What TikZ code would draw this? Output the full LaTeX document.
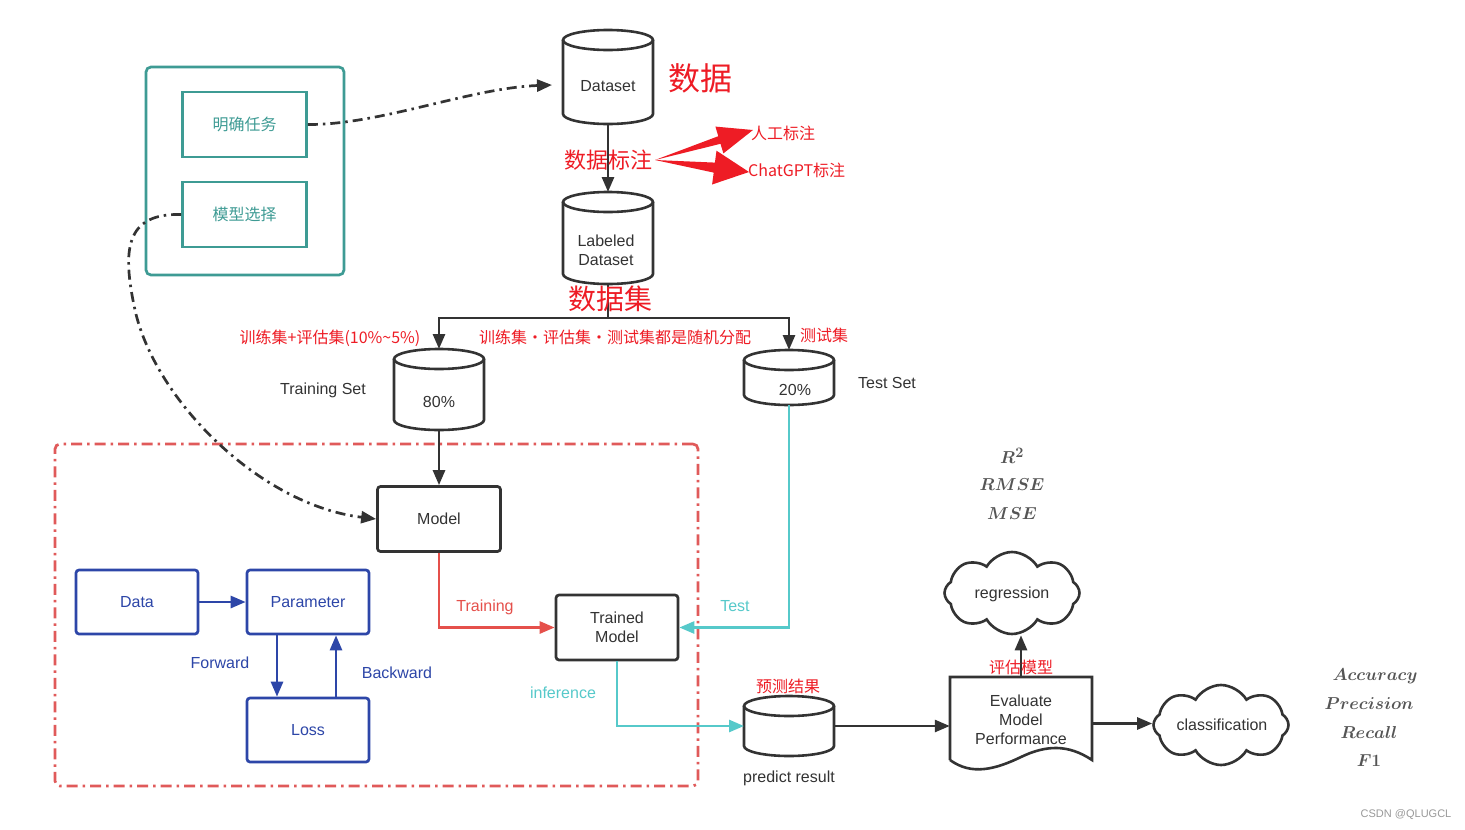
\documentclass[tikz,border=0pt]{standalone}
\usepackage{fontspec}
\setmainfont{Liberation Sans}
\newfontfamily\cjk{Noto Sans CJK SC}
\usetikzlibrary{arrows.meta,shapes.symbols,calc}
\definecolor{dark}{HTML}{333333}
\definecolor{tealC}{HTML}{3E9B94}
\definecolor{blueC}{HTML}{2D46A8}
\definecolor{trainR}{HTML}{E5504B}
\definecolor{cyanC}{HTML}{56C9CA}
\definecolor{annR}{HTML}{EE1C25}
\definecolor{boxR}{HTML}{E05A5A}
\definecolor{mathG}{HTML}{555555}
\definecolor{wmG}{HTML}{999999}
% name, cx, top, bottom (pixel values, y downward)
\newcommand\dbcyl[4]{%
  \node[inner sep=0pt, outer sep=0pt, minimum width=90pt, minimum height={#4-#3}] (#1) at (#2,{-(#3+#4)/2}) {};
  \draw[cylline] ({#2-45},{-(#3+10)}) -- ({#2-45},{-(#4-10)}) arc[start angle=180,end angle=360,x radius=45pt,y radius=10pt] -- ({#2+45},{-(#3+10)});
  \draw[cylline] (#2,{-(#3+10)}) ellipse[x radius=45pt, y radius=10pt];
}
\begin{document}
\begin{tikzpicture}[x=1pt,y=1pt,
  cylline/.style={draw=dark, line width=2.6pt},
  txt/.style={inner sep=0pt, text=dark, font=\fontsize{16}{19}\selectfont, align=center},
  box/.style={draw=dark, line width=2.7pt, rounded corners=3pt, minimum width=123pt, minimum height=65pt, inner sep=0pt, text=dark, font=\fontsize{16}{19}\selectfont, align=center},
  bluebox/.style={draw=blueC, line width=2.7pt, rounded corners=3pt, minimum width=122pt, minimum height=64pt, inner sep=0pt, text=blueC, font=\fontsize{16}{19}\selectfont},
  tealbox/.style={draw=tealC, line width=2.7pt, minimum width=124pt, minimum height=65pt, inner sep=0pt, text=tealC, font=\cjk\fontsize{16}{19}\selectfont},
  tip/.style={-{Triangle[length=15pt,width=12pt]}},
  conn/.style={draw=dark, line width=2.7pt, tip},
  dd/.style={draw=dark, line width=2.7pt, dash pattern=on 10pt off 5pt on 2.5pt off 5pt},
  ann/.style={inner sep=0pt, text=annR, font=\cjk\fontsize{16}{19}\selectfont},
  mth/.style={inner sep=0pt, text=mathG, font=\fontsize{19}{22}\selectfont\boldmath},
  cld/.style={cloud, draw=dark, line width=2.6pt, cloud puffs=8, cloud puff arc=120, cloud ignores aspect, inner sep=0pt}
]
\useasboundingbox (0,0) rectangle (1465,-830);
\fill[white] (0,0) rectangle (1465,-830);

% ---------- red dash-dot training area ----------
\node[draw=boxR, line width=2.7pt, dash pattern=on 11pt off 5pt on 2.5pt off 5pt, rounded corners=5pt, minimum width=643pt, minimum height=342pt, inner sep=0pt] (area) at (376.5,-615) {};

% ---------- teal group ----------
\node[draw=tealC, line width=2.7pt, rounded corners=5pt, minimum width=198pt, minimum height=208pt, inner sep=0pt] (grp) at (245,-171) {};
\node[tealbox] (task) at (244.5,-124.5) {明确任务};
\node[tealbox] (msel) at (244.5,-214.5) {模型选择};

% ---------- cylinders ----------
\dbcyl{ds}{608}{30}{124}
\dbcyl{lds}{608}{192}{284}
\dbcyl{tr}{439}{349}{430}
\dbcyl{te}{789}{350}{405}
\dbcyl{pr}{789}{696}{756}
\node[txt] (dstxt) at (608,-86) {Dataset};
\node[txt] (ldstxt) at (606,-250) {Labeled\\Dataset};
\node[txt] (trtxt) at (439,-402) {80\%};
\node[txt] (tetxt) at (795,-390) {20\%};
\node[txt] (trname) at (323,-390) {Training Set};
\node[txt] (tename) at (887,-383) {Test Set};
\node[txt] (prname) at (789,-778) {predict result};

% ---------- boxes ----------
\node[box] (model) at (439,-519) {Model};
\node[box, minimum width=122pt] (trained) at (617,-627.5) {Trained\\Model};
\node[bluebox] (data) at (137,-602) {Data};
\node[bluebox] (param) at (308,-602) {Parameter};
\node[bluebox] (loss) at (308,-730) {Loss};

% ---------- evaluate document shape ----------
\node[inner sep=0pt, minimum width=142pt, minimum height=93pt] (eval) at (1021,-723.5) {};
\draw[cylline] (950,-760) -- (950,-677) -- (1092,-677) -- (1092,-760)
   .. controls (1068,-744) and (1046,-745) .. (1021,-757)
   .. controls (996,-769) and (972,-776) .. (950,-760);
\node[txt] (evtxt) at (1021,-720) {Evaluate\\Model\\Performance};

% ---------- clouds ----------
\node[cld, minimum width=135pt, minimum height=82pt] (reg) at (1012,-593) {};
\node[txt] (regtxt) at (1012,-594) {regression};
\node[cld, minimum width=135pt, minimum height=80pt] (cls) at (1221,-725) {};
\node[txt] (clstxt) at (1222,-725) {classification};

% ---------- connectors ----------
\coordinate (dsin) at (552,-85);
\coordinate (split) at (608,-318);
\draw[dd, tip] (task.east) .. controls (380,-125) and (470,-88) .. (dsin);
\draw[dd, tip] (msel.west) .. controls (125,-213) and (122,-250) .. (135,-310)
   .. controls (155,-400) and (260,-505) .. (model.west);
\draw[conn] (ds.south) -- (lds.north);
\draw[draw=dark, line width=2.7pt] (lds.south) -- (split);
\draw[conn] (split) -| (tr.north);
\draw[conn] (split) -| (te.north);
\draw[conn] (tr.south) -- (model.north);
\draw[draw=trainR, line width=2.7pt, tip] (model.south) |- (trained.west);
\draw[draw=cyanC, line width=2.7pt, tip] (te.south) |- (trained.east);
\draw[draw=cyanC, line width=2.7pt, tip] (trained.south) |- (pr.west);
\draw[draw=blueC, line width=2.7pt, tip] (data.east) -- (param.west);
\draw[draw=blueC, line width=2.7pt, tip] ([xshift=-31pt]param.south) -- ([xshift=-31pt]loss.north);
\draw[draw=blueC, line width=2.7pt, tip] ([xshift=28pt]loss.north) -- ([xshift=28pt]param.south);
\draw[conn] (pr.east) -- (pr.east -| eval.west);
\draw[conn] (eval.north) -- (eval.north |- reg.south);
\draw[conn] (eval.east) -- (eval.east -| cls.west);

% ---------- connector labels ----------
\node[inner sep=0pt, text=blueC, font=\fontsize{16}{19}\selectfont] (fwd) at (220,-663) {Forward};
\node[inner sep=0pt, text=blueC, font=\fontsize{16}{19}\selectfont] (bwd) at (397,-673) {Backward};
\node[inner sep=0pt, text=trainR, font=\fontsize{16}{19}\selectfont] (trlab) at (485,-607) {Training};
\node[inner sep=0pt, text=cyanC, font=\fontsize{16}{19}\selectfont] (testlab) at (735,-606) {Test};
\node[inner sep=0pt, text=cyanC, font=\fontsize{16}{19}\selectfont] (inflab) at (563,-693) {inference};

% ---------- red annotation arrows ----------
\coordinate (anntail) at (655,-160);
\fill[annR] (anntail) -- (718.3,-136.2) -- (715.4,-126.6) -- (753,-130) -- (723.4,-153.4) -- (720.5,-143.8) -- cycle;
\fill[annR] (anntail) -- (714.9,-162.6) -- (716.5,-150.7) -- (749,-172) -- (712.1,-184.5) -- (713.7,-172.6) -- cycle;

% ---------- red annotations ----------
\node[ann, font=\cjk\fontsize{32}{36}\selectfont] (shuju) at (700,-78) {数据};
\node[ann, font=\cjk\fontsize{22}{26}\selectfont] (biaozhu) at (608,-160) {数据标注};
\node[ann, anchor=west] (rengong) at (751,-133) {人工标注};
\node[ann, anchor=west] (chatgpt) at (748,-170) {ChatGPT标注};
\node[ann, font=\cjk\fontsize{28}{32}\selectfont] (shujuji) at (610,-299) {数据集};
\node[ann] (trainval) at (330,-338) {训练集+评估集(10\%\textasciitilde5\%)};
\node[ann] (random) at (615,-337) {训练集・评估集・测试集都是随机分配};
\node[ann] (testset) at (824,-335) {测试集};
\node[ann] (yuce) at (788,-686) {预测结果};
\node[ann] (pinggu) at (1021,-667) {评估模型};

% ---------- metrics ----------
\node[mth] (r2) at (1012,-456) {$R^2$};
\node[mth] (rmse) at (1012,-485) {$RMSE$};
\node[mth] (mse) at (1012,-514) {$MSE$};
\node[mth] (acc) at (1375,-676) {$Accuracy$};
\node[mth] (prec) at (1369,-704) {$Precision$};
\node[mth] (rec) at (1369,-732) {$Recall$};
\node[mth] (f1) at (1369,-761) {$F1$};

\node[inner sep=0pt, text=wmG, font=\fontsize{11}{13}\selectfont] (wm) at (1406,-815) {CSDN @QLUGCL};
\end{tikzpicture}
\end{document}
